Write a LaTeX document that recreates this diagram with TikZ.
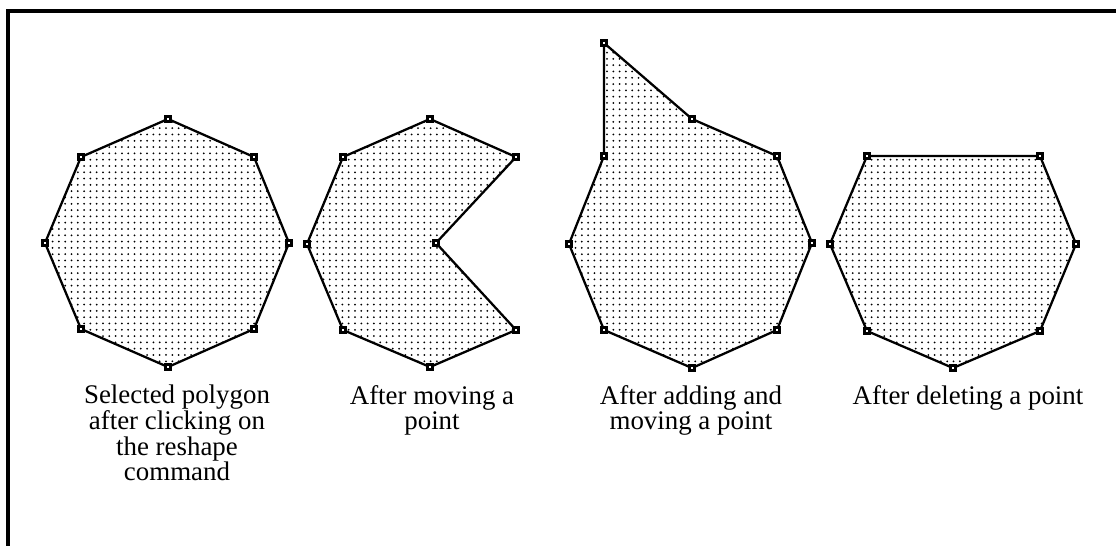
\documentclass[tikz,border=0pt]{standalone}
\usepackage{fontspec}
\setmainfont{Liberation Serif}
\tikzset{
  polyline/.style={line width=1.3pt, line join=round},
  knob/.style={draw=black, fill=white, line width=1.6pt},
  undertext/.style={align=center, anchor=north, inner sep=0pt,
    font=\fontsize{15.3}{14.6}\selectfont}
}

\begin{document}
\begin{tikzpicture}[x=0.02cm,y=-0.02cm]
\useasboundingbox (0,0) rectangle (1116,546);
% frame, only top and left edges
\draw[line width=1.8pt] (8,546) -- (8,11) -- (1116,11);
% corner points of the four polygons
\foreach \n/\px/\py in {a1/168/119, a2/254/157, a3/289/243, a4/254/329,
    a5/168/367, a6/81/329, a7/45/243, a8/81/157}
  \coordinate (\n) at (\px,\py);
\foreach \n/\px/\py in {b1/430/119, b2/516/157, b3/436/243, b4/516/330,
    b5/430/367, b6/343/330, b7/307/244, b8/343/157}
  \coordinate (\n) at (\px,\py);
\foreach \n/\px/\py in {c0/604/43, c1/692/119, c2/777/156, c3/812/243,
    c4/777/330, c5/692/368, c6/604/330, c7/569/244, c8/604/156}
  \coordinate (\n) at (\px,\py);
\foreach \n/\px/\py in {d1/867/156, d2/1040/156, d3/1076/244, d4/1040/331,
    d5/953/368, d6/867/331, d7/830/244}
  \coordinate (\n) at (\px,\py);
% stipple
\begin{scope}
\clip (a1) -- (a2) -- (a3) -- (a4) -- (a5) -- (a6) -- (a7) -- (a8) -- cycle
      (b1) -- (b2) -- (b3) -- (b4) -- (b5) -- (b6) -- (b7) -- (b8) -- cycle
      (c8) -- (c0) -- (c1) -- (c2) -- (c3) -- (c4) -- (c5) -- (c6) -- (c7) -- cycle
      (d1) -- (d2) -- (d3) -- (d4) -- (d5) -- (d6) -- (d7) -- cycle;
\foreach \x in {40,46.3,...,1086}
  \foreach \y in {40,46.3,...,372}
    \fill (\x,\y) circle (1.0);
\end{scope}
% outlines
\draw[polyline] (a1) -- (a2) -- (a3) -- (a4) -- (a5) -- (a6) -- (a7) -- (a8) -- cycle;
\draw[polyline] (b1) -- (b2) -- (b3) -- (b4) -- (b5) -- (b6) -- (b7) -- (b8) -- cycle;
\draw[polyline] (c8) -- (c0) -- (c1) -- (c2) -- (c3) -- (c4) -- (c5) -- (c6) -- (c7) -- cycle;
\draw[polyline] (d1) -- (d2) -- (d3) -- (d4) -- (d5) -- (d6) -- (d7) -- cycle;
% handles
\foreach \n in {a1,a2,a3,a4,a5,a6,a7,a8,b1,b2,b3,b4,b5,b6,b7,b8,
    c0,c1,c2,c3,c4,c5,c6,c7,c8,d1,d2,d3,d4,d5,d6,d7}
  \draw[knob] (\n) ++(-2.8,-2.8) rectangle ++(5.6,5.6);
% captions
\node[undertext] (cap1) at (177,385) {Selected polygon\\after clicking on\\the reshape\\command};
\node[undertext] (cap2) at (432,385) {After moving a\\point};
\node[undertext] (cap3) at (691,385) {After adding and\\moving a point};
\node[undertext] (cap4) at (968,385) {After deleting a point};
\end{tikzpicture}
\end{document}
